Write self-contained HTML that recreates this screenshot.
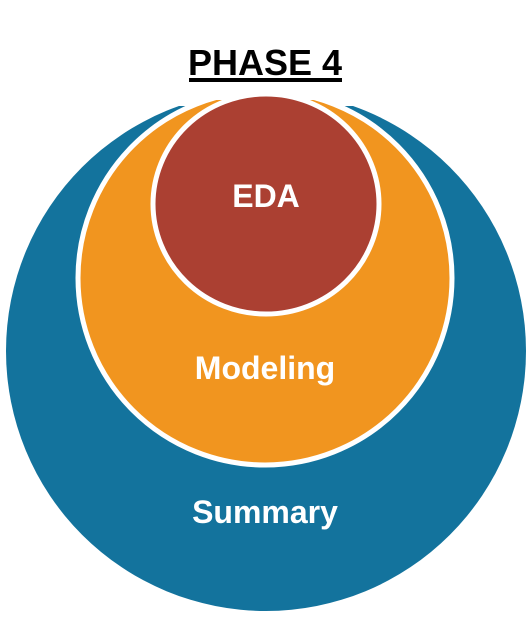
<!DOCTYPE html>
<html><head><style>
html,body{margin:0;padding:0;background:#fff;}
svg{display:block;}
text{font-family:"Liberation Sans",sans-serif;font-weight:bold;}
</style></head><body>
<svg width="531" height="618" viewBox="0 0 531 618">
<defs>
<clipPath id="cb"><rect x="0" y="106" width="531" height="520"/></clipPath>
<clipPath id="co"><rect x="0" y="100" width="531" height="520"/></clipPath>
</defs>
<circle cx="266" cy="351" r="260" fill="#13739d" clip-path="url(#cb)"/>
<circle cx="265" cy="278" r="187" fill="#f1951f" stroke="#fff" stroke-width="5" clip-path="url(#co)"/>
<ellipse cx="266" cy="204" rx="113" ry="110" fill="#ab4032" stroke="#fff" stroke-width="5"/>
<text x="265" y="75" font-size="36" text-anchor="middle" fill="#000">PHASE 4</text>
<rect x="189" y="78" width="153" height="4" fill="#000"/>
<text x="266" y="207" font-size="32" text-anchor="middle" fill="#fff">EDA</text>
<text x="265" y="379" font-size="32" text-anchor="middle" fill="#fff">Modeling</text>
<text x="265" y="523" font-size="32" text-anchor="middle" fill="#fff">Summary</text>
</svg>
</body></html>
